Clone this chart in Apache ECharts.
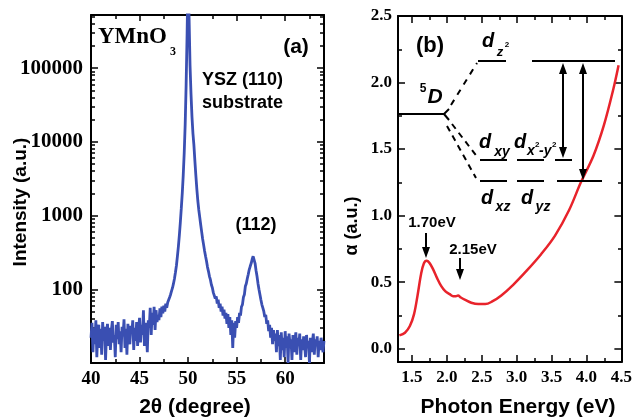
<!DOCTYPE html>
<html>
<head>
<meta charset="utf-8">
<script src="https://cdn.jsdelivr.net/npm/echarts@6/dist/echarts.min.js"></script>
<style>
html,body{margin:0;padding:0;background:#fff}
#main{width:635px;height:420px}
</style>
</head>
<body>
<div id="main"></div>
<script>
// ---- (a) XRD scan, 2theta from 40 to 64 in 0.1 deg steps, counts
var xrdStart = 40;
var xrdStep = 0.1;
var xrdIntensity = [
    22, 35, 14, 30, 18, 38, 12, 27, 33, 16,
    29, 13, 36, 20, 31, 11, 26, 34, 17, 30,
    15, 28, 37, 19, 24, 12, 33, 21, 36, 18,
    27, 14, 31, 23, 39, 16, 29, 13, 34, 22,
    18, 32, 25, 38, 15, 30, 20, 36, 17, 28,
    41, 19, 33, 24, 52, 17, 35, 26, 14, 38,
    30, 56, 24, 48, 33, 58, 28, 52, 36, 45,
    38, 55, 42, 58, 47, 60, 50, 64, 56, 66,
    70, 78, 85, 95, 105, 120, 140, 170, 210, 280,
    380, 540, 800, 1250, 2000, 3500, 7000, 17000, 60000, 300000,
    2000000, 500000, 110000, 45000, 22000, 13000, 9000, 5500, 3500, 2300,
    1600, 1200, 950, 750, 600, 480, 400, 330, 280, 240,
    200, 175, 150, 135, 115, 105, 90, 88, 75, 80,
    64, 72, 56, 64, 50, 58, 44, 53, 40, 48,
    34, 46, 30, 42, 24, 38, 16, 35, 22, 37,
    30, 42, 35, 48, 44, 58, 62, 78, 85, 110,
    120, 140, 160, 185, 205, 225, 255, 280, 265, 225,
    180, 150, 120, 100, 85, 72, 62, 56, 50, 42,
    45, 34, 38, 27, 33, 22, 30, 18, 28, 20,
    25, 14, 28, 17, 24, 11, 26, 15, 22, 12,
    27, 16, 23, 10, 25, 18, 21, 11, 24, 14,
    20, 26, 13, 22, 17, 25, 11, 21, 15, 23,
    18, 12, 24, 16, 20, 10, 22, 14, 19, 25,
    13, 21, 17, 23, 12, 20, 15, 22, 18, 14,
    20
];
var xrdTicks = [40, 45, 50, 55, 60];
var xrdMinorTicks = [42.5, 47.5, 52.5, 57.5, 62.5];
var xrdDecades = [100, 1000, 10000, 100000];

// ---- (b) absorption
var absEnergy = [1.32, 1.40, 1.47, 1.53, 1.58, 1.63, 1.67, 1.71, 1.75, 1.80, 1.86, 1.92, 1.98, 2.04,
    2.09, 2.13, 2.16, 2.20, 2.27, 2.35, 2.45, 2.55, 2.65, 2.78, 2.95, 3.15, 3.35, 3.55, 3.75,
    3.92, 4.10, 4.25, 4.38, 4.46];
var absAlpha = [0.10, 0.12, 0.17, 0.26, 0.40, 0.56, 0.64, 0.66, 0.645, 0.60, 0.53, 0.47, 0.43, 0.41,
    0.395, 0.395, 0.40, 0.385, 0.365, 0.345, 0.335, 0.335, 0.355, 0.40, 0.48, 0.59, 0.71, 0.85, 1.04,
    1.25, 1.45, 1.68, 1.94, 2.13];
var absXTicks = [1.5, 2.0, 2.5, 3.0, 3.5, 4.0, 4.5];
var absXMinor = [1.75, 2.25, 2.75, 3.25, 3.75, 4.25];
var absYTicks = [0, 0.5, 1.0, 1.5, 2.0, 2.5];
var absYMinor = [0.25, 0.75, 1.25, 1.75, 2.25];

var serif = "'Liberation Serif','Times New Roman',serif";
var sans = "'Liberation Sans',Arial,sans-serif";

var gridA = {left: 91, top: 15, width: 233, height: 348};
var gridB = {left: 398, top: 16, width: 224, height: 346};

// log10 positions for the log-axis
var logMajor = xrdDecades.map(function(v){ return Math.log10(v); });
var logMinor = [];
for (var n = 1; n <= 5; n++) {
    for (var k = 2; k <= 9; k++) {
        var lv = Math.log10(k * Math.pow(10, n));
        if (lv < 5.72) logMinor.push(lv);
    }
}

function axisPair(dim, gi, min, max, ticks, len, showLine, labels, fmt, fs, margin) {
    var pos = dim === 'x' ? ['bottom', 'top'] : ['left', 'right'];
    return pos.map(function(p, i){
        return {
            gridIndex: gi,
            type: 'value',
            position: p,
            min: min,
            max: max,
            axisLine: {show: showLine, onZero: false, lineStyle: {color: '#000', width: 2}},
            axisTick: {show: true, inside: true, length: len, customValues: ticks,
                lineStyle: {color: '#000', width: 1.5}},
            axisLabel: {
                show: i === 0 && !!labels,
                customValues: labels || ticks,
                formatter: fmt,
                color: '#000',
                fontFamily: serif,
                fontWeight: 'bold',
                fontSize: fs || 12,
                margin: margin || 8
            },
            splitLine: {show: false}
        };
    });
}

var xrdData = xrdIntensity.map(function(v, i){
    return [xrdStart + i * xrdStep, Math.log10(v)];
});
var absData = absEnergy.map(function(e, i){ return [e, absAlpha[i]]; });

var xAxes = [].concat(
    axisPair('x', 0, 40, 64, xrdTicks, 6, true, xrdTicks, function(v){ return Math.round(v); }, 19, 7),
    axisPair('x', 1, 1.3, 4.5, absXTicks, 7, true, absXTicks, function(v){ return v.toFixed(1); }, 17, 7),
    axisPair('x', 2, 40, 64, xrdMinorTicks, 4, false),
    axisPair('x', 3, 1.3, 4.5, absXMinor, 4, false)
);
var yAxes = [].concat(
    axisPair('y', 0, 1, 5.72, logMajor, 7, true, logMajor, function(v){ return String(Math.round(Math.pow(10, v))); }, 21, 8),
    axisPair('y', 1, -0.1, 2.5, absYTicks, 7, true, absYTicks, function(v){ return v.toFixed(1); }, 17, 6),
    axisPair('y', 2, 1, 5.72, logMinor, 4, false),
    axisPair('y', 3, -0.1, 2.5, absYMinor, 4, false)
);

// annotation helpers
function txt(x, y, s, size, style, family, align) {
    var f = (style || 'bold') + ' ' + size + 'px ' + (family || sans);
    return {type: 'text', x: x, y: y, silent: true, z: 10,
        style: {text: s, fill: '#000', font: f, align: align || 'center', verticalAlign: 'middle',
            textAlign: align || 'center', textVerticalAlign: 'middle'}};
}
function seg(x1, y1, x2, y2, dash) {
    return {type: 'line', silent: true, z: 10, shape: {x1: x1, y1: y1, x2: x2, y2: y2},
        style: {stroke: '#000', lineWidth: 2, lineDash: dash || null}};
}
function head(x, tipY, dir) {
    var b = tipY - dir * 11;
    return {type: 'polygon', silent: true, z: 10,
        shape: {points: [[x, tipY], [x - 4, b], [x + 4, b]]}, style: {fill: '#000'}};
}

var graphics = [
    // panel a texts
    txt(98, 37, 'YMnO', 23, 'bold', serif, 'left'),
    txt(173, 52, '3', 12, 'bold', serif),
    txt(296, 47, '(a)', 21),
    txt(202, 80, 'YSZ (110)', 18, 'bold', sans, 'left'),
    txt(202, 103, 'substrate', 18, 'bold', sans, 'left'),
    txt(256, 225, '(112)', 18),
    {type: 'text', x: 21, y: 202, rotation: Math.PI / 2, silent: true,
        style: {text: 'Intensity (a.u.)', fill: '#000', font: 'bold 19px ' + sans,
            align: 'center', verticalAlign: 'middle', textAlign: 'center', textVerticalAlign: 'middle'}},
    txt(195, 407, '2\u03b8 (degree)', 21),
    // panel b texts
    txt(430, 46, '(b)', 22),
    {type: 'text', x: 352, y: 226, rotation: Math.PI / 2, silent: true,
        style: {text: '\u03b1 (a.u.)', fill: '#000', font: 'bold 18px ' + sans,
            align: 'center', verticalAlign: 'middle', textAlign: 'center', textVerticalAlign: 'middle'}},
    txt(518, 407, 'Photon Energy (eV)', 21),
    txt(432, 223, '1.70eV', 15),
    txt(473, 250, '2.15eV', 15),
    // arrows to features
    seg(426, 233, 426, 250), head(426, 258, 1),
    seg(460, 258, 460, 272), head(460, 280, 1),
    // energy level diagram
    txt(423, 89, '5', 12),
    txt(435, 97, 'D', 21, 'italic bold'),
    seg(398, 114, 444, 114),
    seg(444, 114, 449, 109), seg(444, 114, 449, 120),
    seg(451, 105, 477, 63, [6, 6]),
    seg(478, 61, 506, 61),
    seg(532, 61, 615, 61),
    txt(488, 41, 'd', 20, 'italic bold'),
    txt(500, 52, 'z', 13, 'italic bold'),
    txt(507, 45, '2', 8),
    seg(452, 124, 478, 158, [6, 5]),
    seg(447, 126, 476, 178, [6, 5]),
    seg(480, 160, 507, 160), seg(517, 160, 544, 160), seg(555, 160, 572, 160),
    seg(480, 181, 507, 181), seg(517, 181, 544, 181), seg(557, 181, 602, 181),
    txt(485, 142, 'd', 20, 'italic bold'),
    txt(502, 152, 'xy', 14, 'italic bold'),
    txt(520, 142, 'd', 20, 'italic bold'),
    txt(527, 151, 'x', 14, 'italic bold', sans, 'left'),
    txt(535, 145, '2', 8, 'bold', sans, 'left'),
    txt(539, 151, '-y', 14, 'italic bold', sans, 'left'),
    txt(552, 145, '2', 8, 'bold', sans, 'left'),
    txt(487, 198, 'd', 20, 'italic bold'),
    txt(503, 207, 'xz', 14, 'italic bold'),
    txt(527, 198, 'd', 20, 'italic bold'),
    txt(543, 207, 'yz', 14, 'italic bold'),
    // transition arrows
    seg(563, 72, 563, 150), head(563, 63, -1), head(563, 158, 1),
    seg(583, 72, 583, 171), head(583, 63, -1), head(583, 180, 1)
];

var chart = echarts.init(document.getElementById('main'), null, {renderer: 'canvas'});
chart.setOption({
    animation: false,
    backgroundColor: '#fff',
    grid: [gridA, gridB, gridA, gridB],
    xAxis: xAxes,
    yAxis: yAxes,
    series: [
        {
            name: 'XRD', type: 'line', xAxisIndex: 0, yAxisIndex: 0,
            data: xrdData, showSymbol: false, clip: true,
            lineStyle: {color: '#3a4fb2', width: 2.8}
        },
        {
            name: 'alpha', type: 'line', xAxisIndex: 2, yAxisIndex: 2,
            data: absData, showSymbol: false, smooth: 0.35, clip: true,
            lineStyle: {color: '#e8232b', width: 2.5}
        }
    ],
    graphic: graphics
});
</script>
</body>
</html>
